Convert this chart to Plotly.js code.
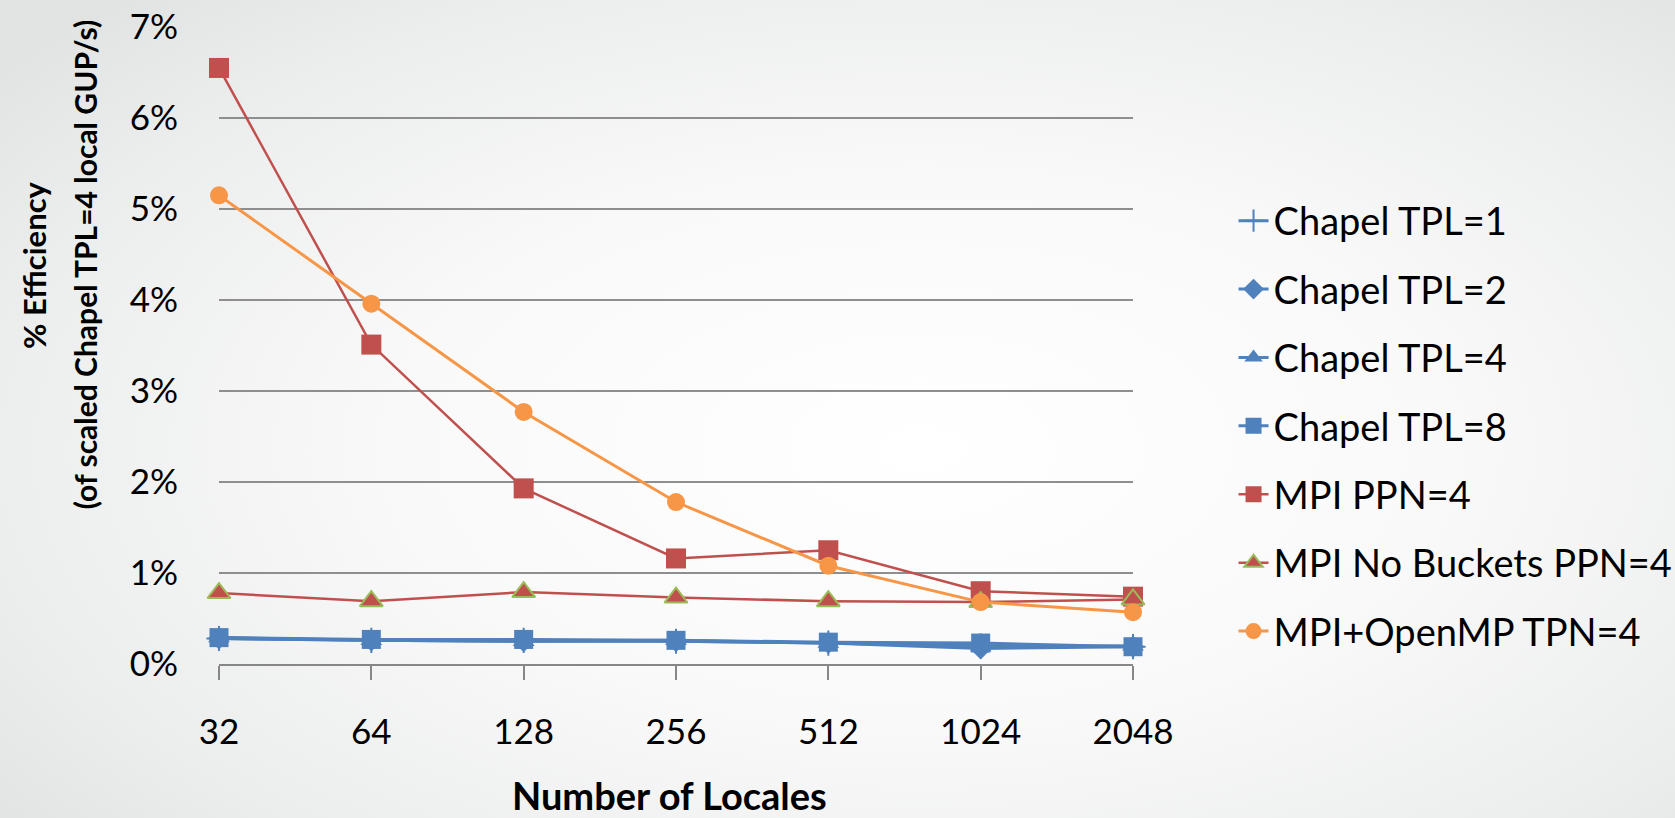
<!DOCTYPE html>
<html>
<head>
<meta charset="utf-8">
<script src="https://cdn.plot.ly/plotly-3.0.1.min.js"></script>
<style>
html, body { margin:0; padding:0; width:1675px; height:818px; overflow:hidden;
  background: radial-gradient(ellipse 70% 75% at 55% 55%, #ffffff 0%, #f8f9f8 45%, #eceeed 80%, #e2e4e3 100%); }
#chart { width:1675px; height:818px; }
</style>
</head>
<body>
<div id="chart"></div>
<script>
const locales = ["32", "64", "128", "256", "512", "1024", "2048"];
const chapelTPL1 = [0.28, 0.26, 0.26, 0.25, 0.23, 0.20, 0.19];
const chapelTPL2 = [0.28, 0.26, 0.25, 0.25, 0.23, 0.17, 0.19];
const chapelTPL4 = [0.29, 0.26, 0.25, 0.26, 0.23, 0.19, 0.20];
const chapelTPL8 = [0.29, 0.27, 0.27, 0.26, 0.24, 0.23, 0.19];
const mpiPPN4 = [6.55, 3.51, 1.93, 1.16, 1.25, 0.80, 0.74];
const mpiNoBuckets = [0.78, 0.69, 0.79, 0.73, 0.69, 0.68, 0.71];
const mpiOpenMP = [5.15, 3.96, 2.77, 1.78, 1.08, 0.68, 0.57];
const yTicks = [0, 1, 2, 3, 4, 5, 6, 7];
const yTickText = ["0%", "1%", "2%", "3%", "4%", "5%", "6%", "7%"];

const BLUE = "#4f81bd", RED = "#c0504d", ORANGE = "#f79646", GREEN = "#9bbb59";
const FONT = "Lato, 'Open Sans', sans-serif";

function tr(name, y, color, lw, marker, grp) {
  return { type: "scatter", mode: "lines+markers", name: name, x: locales, y: y,
    line: { color: color, width: lw }, marker: marker, cliponaxis: false,
    legendgroup: grp, hoverinfo: "x+y+name" };
}

const data = [
  tr("Chapel TPL=1", chapelTPL1, BLUE, 3, { symbol: "cross-thin", size: 18, color: BLUE, line: { color: BLUE, width: 2 } }, "g1"),
  tr("Chapel TPL=2", chapelTPL2, BLUE, 3, { symbol: "diamond", size: 17, color: BLUE }, "g2"),
  tr("Chapel TPL=4", chapelTPL4, BLUE, 3, { symbol: "triangle-up", size: 19, color: BLUE }, "g3"),
  tr("Chapel TPL=8", chapelTPL8, BLUE, 3, { symbol: "square", size: 19, color: BLUE }, "g4"),
  tr("MPI PPN=4", mpiPPN4, RED, 2.5, { symbol: "square", size: 20, color: RED }, "g5"),
  tr("MPI No Buckets PPN=4", mpiNoBuckets, RED, 2.5, { symbol: "triangle-up", size: 20, color: RED, line: { color: GREEN, width: 2 } }, "g6"),
  tr("MPI+OpenMP TPN=4", mpiOpenMP, ORANGE, 3, { symbol: "circle", size: 18, color: ORANGE }, "g7")
];

const layout = {
  width: 1675, height: 818,
  margin: { l: 219, r: 542, t: 27, b: 154, autoexpand: false },
  paper_bgcolor: "rgba(0,0,0,0)", plot_bgcolor: "rgba(0,0,0,0)",
  font: { family: FONT, color: "#000000", size: 36 },
  xaxis: {
    type: "category", range: [0, 6], showgrid: false, zeroline: false,
    showline: true, linecolor: "#878787", linewidth: 2,
    ticks: "outside", ticklen: 14, tickwidth: 2, tickcolor: "#878787",
    tickfont: { family: FONT, size: 35, color: "#000" }, ticklabelstandoff: 22
  },
  yaxis: {
    range: [0, 7], tickvals: yTicks, ticktext: yTickText,
    showgrid: true, gridcolor: "#8e8e8e", gridwidth: 2, zeroline: false, showline: false,
    ticks: "", tickfont: { family: FONT, size: 35, color: "#000" }, ticklabelstandoff: 40
  },
  showlegend: true,
  legend: {
    x: 1.11, xanchor: "left", y: 0.745, yanchor: "top",
    font: { family: FONT, size: 38, color: "#000" },
    bgcolor: "rgba(0,0,0,0)", tracegroupgap: 16, itemwidth: 30
  },
  annotations: [
    { text: "<b>% Efficiency</b>", textangle: -90, xref: "paper", yref: "paper",
      x: -0.203, y: 0.627, xanchor: "center", yanchor: "middle", showarrow: false,
      font: { family: FONT, size: 31, color: "#000" } },
    { text: "<b>(of scaled Chapel TPL=4 local GUP/s)</b>", textangle: -90, xref: "paper", yref: "paper",
      x: -0.147, y: 0.627, xanchor: "center", yanchor: "middle", showarrow: false,
      font: { family: FONT, size: 30, color: "#000" } },
    { text: "<b>Number of Locales</b>", xref: "paper", yref: "paper",
      x: (669 - 219) / 914, y: -(795 - 664) / 637, xanchor: "center", yanchor: "middle", showarrow: false,
      font: { family: FONT, size: 38, color: "#000" } }
  ]
};

Plotly.newPlot("chart", data, layout, { displayModeBar: false, staticPlot: true });
</script>
</body>
</html>
